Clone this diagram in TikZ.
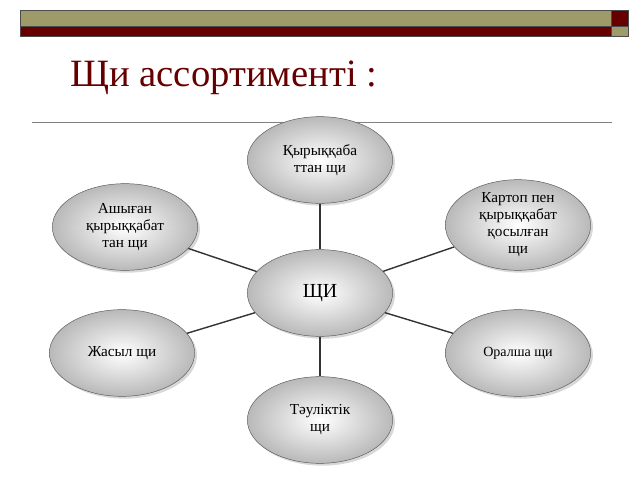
\documentclass[tikz,border=0pt]{standalone}
\usepackage{fontspec}
\setmainfont{Liberation Serif}
\usetikzlibrary{shadows,shapes.geometric}
\definecolor{olivebar}{HTML}{9E9A6A}
\definecolor{darkred}{HTML}{660000}
\begin{document}
\begin{tikzpicture}[x=0.03cm, y=-0.03cm]
\tikzstyle{dish} = [ellipse, draw=gray!70!black, inner color=white, outer color=gray!55, minimum width=124pt, minimum height=74pt, inner sep=0pt, align=center, font=\fontsize{13}{14.5}\selectfont, drop shadow={shadow xshift=2pt, shadow yshift=-2pt, fill=gray!60}]
\tikzstyle{link} = [very thick, black!80]

\useasboundingbox (0,0) rectangle (640,480);
% header bars
\draw[fill=olivebar, draw=black!70] (20,10) rectangle (611,26);
\draw[fill=darkred, draw=black!70] (611,10) rectangle (628,26);
\draw[fill=darkred, draw=black!70] (20,26) rectangle (611,36);
\draw[fill=olivebar, draw=black!70] (611,26) rectangle (628,36);
\node[anchor=west, text=darkred, font=\fontsize{33}{38}\selectfont, inner sep=0pt] (title) at (70,78) {Щи ассортименті :};
\draw[gray] (32,122) -- (612,122);

\node[dish] (center) at (320,293) {\fontsize{17}{19}\selectfont ЩИ};
\node[dish] (top) at (320,160) {Қырыққаба\\ттан щи};
\node[dish] (lefttop) at (125,227) {Ашыған\\қырыққабат\\тан щи};
\node[dish] (righttop) at (518,225) {Картоп пен\\қырыққабат\\қосылған\\щи};
\node[dish] (leftbot) at (122,353) {Жасыл щи};
\node[dish, font=\fontsize{12}{14}\selectfont] (rightbot) at (518,353) {Оралша щи};
\node[dish] (bottom) at (320,420) {Тәуліктік\\щи};

\draw[link] (center) -- (top);
\draw[link] (center) -- (lefttop);
\draw[link] (center) -- (righttop);
\draw[link] (center) -- (leftbot);
\draw[link] (center) -- (rightbot);
\draw[link] (center) -- (bottom);
\end{tikzpicture}
\end{document}
